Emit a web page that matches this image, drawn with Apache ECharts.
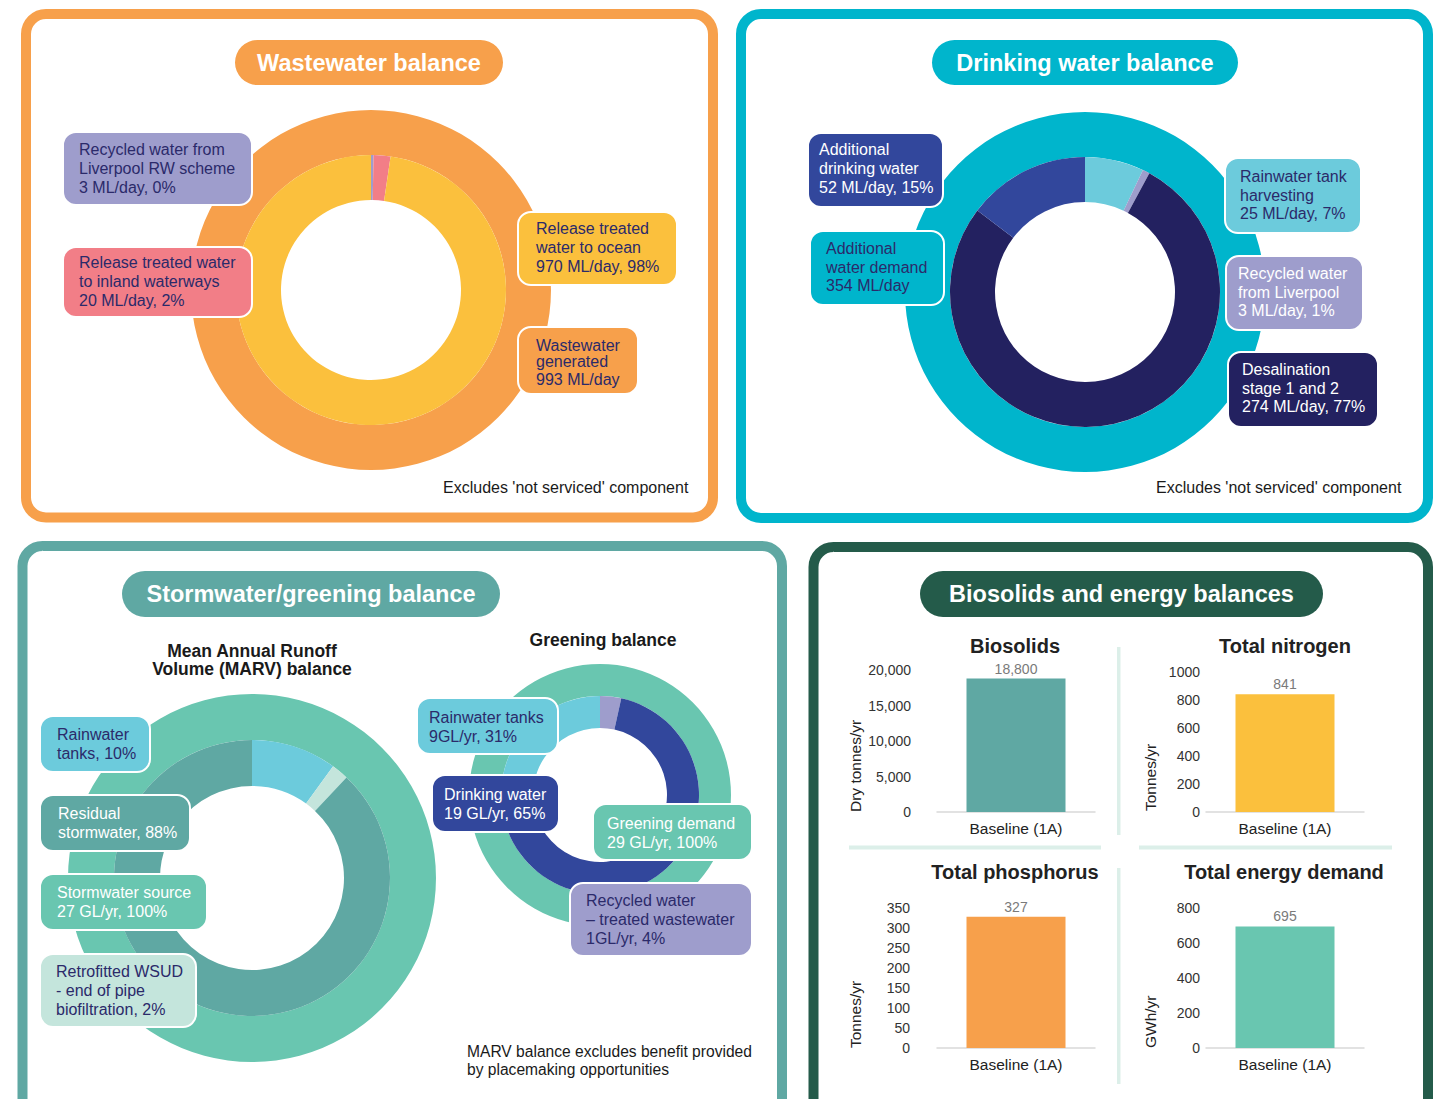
<!DOCTYPE html>
<html><head><meta charset="utf-8">
<script src="https://cdn.jsdelivr.net/npm/echarts@6/dist/echarts.min.js"></script>
<style>html,body{margin:0;padding:0;background:#fff}#c{width:1446px;height:1099px}</style>
</head><body><div id="c"></div>
<script>
// ---------------- DATA ----------------
const wwNames = ['Recycled water from\nLiverpool RW scheme', 'Release treated water\nto inland waterways', 'Release treated\nwater to ocean'];
const wwValues = [3, 20, 970];
const wwPct = [0, 2, 98];
const wwTotalName = 'Wastewater\ngenerated';
const wwTotal = 993;

const dwNames = ['Rainwater tank\nharvesting', 'Recycled water\nfrom Liverpool', 'Desalination\nstage 1 and 2', 'Additional\ndrinking water'];
const dwValues = [25, 3, 274, 52];
const dwPct = [7, 1, 77, 15];
const dwTotalName = 'Additional\nwater demand';
const dwTotal = 354;

const marvNames = ['Rainwater\ntanks', 'Retrofitted WSUD\n- end of pipe\nbiofiltration', 'Residual\nstormwater'];
const marvPct = [10, 2, 88];
const marvTotalName = 'Stormwater source';
const marvTotal = 27;
const marvTotalPct = 100;

const grNames = ['Recycled water\n– treated wastewater', 'Drinking water', 'Rainwater tanks'];
const grValues = [1, 19, 9];
const grPct = [4, 65, 31];
const grTotalName = 'Greening demand';
const grTotal = 29;
const grTotalPct = 100;

const barTitles = ['Biosolids', 'Total nitrogen', 'Total phosphorus', 'Total energy demand'];
const barUnits = ['Dry tonnes/yr', 'Tonnes/yr', 'Tonnes/yr', 'GWh/yr'];
const barCategory = ['Baseline (1A)'];
const barValues = [18800, 841, 327, 695];
const barMax = [20000, 1000, 350, 800];
const barInterval = [5000, 200, 50, 200];
const barCommas = [true, false, false, false];

// ---------------- STYLE ----------------
const C = {
  orange: '#F7A04B', yellow: '#FBC03D', pink: '#F27E87', purple: '#9E9DCC',
  cyan: '#00B5CC', lcyan: '#6CCBDC', blue: '#32479C', navy: '#232160',
  teal: '#5FA8A3', mint: '#69C6B0', pale: '#C4E5DC', dgreen: '#245B4A',
  txt: '#2B2A6A', sep: '#DCEFE9'
};
const FF = "'Liberation Sans', Arial, Helvetica, sans-serif";

const G = [];
function txt(x, y, text, o) {
  o = o || {};
  G.push({
    type: 'text', x: x, y: y, rotation: o.rot || 0, z: o.z == null ? 12 : o.z, silent: true,
    style: {
      text: text, fill: o.fill || '#1a1a1a', fontSize: o.size || 16, fontWeight: o.weight || 'normal',
      fontFamily: FF, align: o.align || 'left', textAlign: o.align || 'left',
      verticalAlign: 'middle', textVerticalAlign: 'middle'
    }
  });
}
function panel(x, y, w, h, color) {
  G.push({ type: 'rect', z: 0, silent: true, shape: { x: x, y: y, width: w, height: h, r: 20 },
    style: { fill: '#fff', stroke: color, lineWidth: 10 } });
}
function pill(x, y, w, h, color, text) {
  G.push({ type: 'rect', z: 5, silent: true, shape: { x: x, y: y, width: w, height: h, r: h / 2 },
    style: { fill: color } });
  txt(x + w / 2, y + h / 2, text, { fill: '#fff', size: 23.5, weight: 'bold', align: 'center' });
}
function box(x, y, w, h, fill, tc, lines, tx, ys) {
  G.push({ type: 'rect', z: 10, silent: true, shape: { x: x, y: y, width: w, height: h, r: 13 },
    style: { fill: fill, stroke: '#fff', lineWidth: 2 } });
  lines.forEach((l, i) => txt(tx, ys[i], l, { fill: tc, size: 16 }));
}
function sepRect(x, y, w, h) {
  G.push({ type: 'rect', z: 1, silent: true, shape: { x: x, y: y, width: w, height: h }, style: { fill: C.sep } });
}

// Panels
panel(26, 14, 687, 503.5, C.orange);
panel(741, 14, 687, 504, C.cyan);
panel(22.5, 546, 759.5, 620, C.teal);
panel(813.5, 547, 614.5, 620, C.dgreen);

// Titles
pill(235, 40, 268, 45, C.orange, 'Wastewater balance');
pill(932, 40, 306, 45, C.cyan, 'Drinking water balance');
pill(122, 571, 378, 46, C.teal, 'Stormwater/greening balance');
pill(920, 571, 403, 46, C.dgreen, 'Biosolids and energy balances');

// Wastewater labels
box(63, 132, 189, 73, C.purple, C.txt, [...wwNames[0].split('\n'), wwValues[0] + ' ML/day, ' + wwPct[0] + '%'], 79, [149, 168, 187]);
box(63, 247, 189, 70, C.pink, C.txt, [...wwNames[1].split('\n'), wwValues[1] + ' ML/day, ' + wwPct[1] + '%'], 79, [262, 281, 300]);
box(518, 212, 159, 73, C.yellow, C.txt, [...wwNames[2].split('\n'), wwValues[2] + ' ML/day, ' + wwPct[2] + '%'], 536, [228, 247, 266]);
box(518, 327, 120, 67, C.orange, C.txt, [...wwTotalName.split('\n'), wwTotal + ' ML/day'], 536, [345, 361, 379]);
txt(443, 487, "Excludes 'not serviced' component", { size: 16 });

// Drinking water labels
box(808, 133, 135, 74, C.blue, '#fff', [...dwNames[3].split('\n'), dwValues[3] + ' ML/day, ' + dwPct[3] + '%'], 819, [149, 168, 187]);
box(810, 231, 134, 74, C.cyan, C.txt, [...dwTotalName.split('\n'), dwTotal + ' ML/day'], 826, [248, 267, 285]);
box(1225, 158, 136, 75, C.lcyan, C.txt, [...dwNames[0].split('\n'), dwValues[0] + ' ML/day, ' + dwPct[0] + '%'], 1240, [176, 195, 213]);
box(1226, 256, 137, 74, C.purple, '#fff', [...dwNames[1].split('\n'), dwValues[1] + ' ML/day, ' + dwPct[1] + '%'], 1238, [273, 292, 310]);
box(1228, 352, 150, 75, C.navy, '#fff', [...dwNames[2].split('\n'), dwValues[2] + ' ML/day, ' + dwPct[2] + '%'], 1242, [369, 388, 406]);
txt(1156, 487, "Excludes 'not serviced' component", { size: 16 });

// Stormwater labels
txt(252, 651, 'Mean Annual Runoff', { size: 17.5, weight: 'bold', align: 'center' });
txt(252, 669, 'Volume (MARV) balance', { size: 17.5, weight: 'bold', align: 'center' });
txt(603, 640, 'Greening balance', { size: 17.5, weight: 'bold', align: 'center' });
const mRain = marvNames[0].split('\n');
box(40, 716, 110, 56, C.lcyan, C.txt, [mRain[0], mRain[1] + ', ' + marvPct[0] + '%'], 57, [734, 753]);
const mRes = marvNames[2].split('\n');
box(40, 795, 150, 56, C.teal, '#fff', [mRes[0], mRes[1] + ', ' + marvPct[2] + '%'], 58, [813, 832]);
box(40, 874, 167, 56, C.mint, '#fff', [marvTotalName, marvTotal + ' GL/yr, ' + marvTotalPct + '%'], 57, [892, 911]);
const mW = marvNames[1].split('\n');
box(40, 954, 156, 73, C.pale, C.txt, [mW[0], mW[1], mW[2] + ', ' + marvPct[1] + '%'], 56, [971, 990, 1009]);

box(417, 698, 141, 56, C.lcyan, C.txt, [grNames[2], grValues[2] + 'GL/yr, ' + grPct[2] + '%'], 429, [717, 736]);
box(432, 775, 127, 57, C.blue, '#fff', [grNames[1], grValues[1] + ' GL/yr, ' + grPct[1] + '%'], 444, [794, 813]);
box(593, 804, 159, 56, C.mint, '#fff', [grTotalName, grTotal + ' GL/yr, ' + grTotalPct + '%'], 607, [823, 842]);
box(570, 883, 182, 73, C.purple, C.txt, [...grNames[0].split('\n'), grValues[0] + 'GL/yr, ' + grPct[0] + '%'], 586, [900, 919, 938]);
txt(467, 1051, 'MARV balance excludes benefit provided', { size: 15.6 });
txt(467, 1069, 'by placemaking opportunities', { size: 15.6 });

// Biosolids panel separators
sepRect(849, 845.5, 252, 4);
sepRect(1139, 845.5, 253, 4);
sepRect(1117, 647, 3.5, 188);
sepRect(1117, 868, 3.5, 216);

// Bar chart layout
const grids = [
  { left: 937, top: 670, width: 158, height: 142 },
  { left: 1206, top: 672, width: 158, height: 140 },
  { left: 937, top: 907.5, width: 158, height: 140.5 },
  { left: 1206, top: 908, width: 158, height: 140 }
];
const titlePos = [[1015, 646], [1285, 646], [1015, 872], [1284, 872]];
const unitPos = [[855, 812], [1150, 811], [855, 1048], [1150, 1048]];
const labelMargins = [26, 6, 27, 6];
const barColors = [C.teal, C.yellow, C.orange, C.mint];
barTitles.forEach((t, i) => txt(titlePos[i][0], titlePos[i][1], t, { size: 20, weight: 'bold', align: 'center', fill: '#222' }));
barUnits.forEach((u, i) => txt(unitPos[i][0], unitPos[i][1], u, { size: 15.5, rot: Math.PI / 2, fill: '#222' }));

const fmtNum = (v, comma) => comma ? echarts.format.addCommas(v) : String(v);

// ---------------- SERIES ----------------
function ring(center, radius, values, names, colors) {
  return {
    type: 'pie', center: center, radius: radius, startAngle: 90, clockwise: true, silent: true,
    animation: false, z: 2, label: { show: false }, labelLine: { show: false },
    itemStyle: { borderWidth: 0 },
    data: values.map((v, i) => ({ value: v, name: names[i], itemStyle: { color: colors[i] } }))
  };
}

const series = [
  ring([371, 290], [135, 180], [wwTotal], [wwTotalName], [C.orange]),
  ring([371, 290], [90, 135], wwValues, wwNames, [C.purple, C.pink, C.yellow]),
  ring([1085, 292], [135, 180], [dwTotal], [dwTotalName], [C.cyan]),
  ring([1085, 292], [90, 135], dwValues, dwNames, [C.lcyan, C.purple, C.navy, C.blue]),
  ring([252, 878], [138, 184], [marvTotal], [marvTotalName], [C.mint]),
  ring([252, 878], [92, 138], marvPct, marvNames, [C.lcyan, C.pale, C.teal]),
  ring([600, 795], [99, 131], [grTotal], [grTotalName], [C.mint]),
  ring([600, 795], [67, 99], grValues, grNames, [C.purple, C.blue, C.lcyan])
];
barValues.forEach((v, i) => {
  series.push({
    type: 'bar', xAxisIndex: i, yAxisIndex: i, data: [v], barWidth: 99, animation: false, silent: true,
    itemStyle: { color: barColors[i] },
    label: { show: true, position: 'top', distance: 3, color: '#7a7a7a', fontSize: 14, fontFamily: FF,
      formatter: p => fmtNum(p.value, barCommas[i]) }
  });
});

const option = {
  animation: false,
  textStyle: { fontFamily: FF },
  graphic: { elements: G },
  grid: grids.map(g => Object.assign({ containLabel: false }, g)),
  xAxis: grids.map((g, i) => ({
    type: 'category', gridIndex: i, data: barCategory,
    axisLine: { show: true, lineStyle: { color: '#d9d9d9', width: 1.5 } },
    axisTick: { show: false },
    axisLabel: { color: '#222', fontSize: 15.5, margin: 8, fontFamily: FF }
  })),
  yAxis: grids.map((g, i) => ({
    type: 'value', gridIndex: i, min: 0, max: barMax[i], interval: barInterval[i],
    axisLine: { show: false }, axisTick: { show: false }, splitLine: { show: false },
    axisLabel: { color: '#333', fontSize: 14, margin: labelMargins[i], fontFamily: FF,
      formatter: v => fmtNum(v, barCommas[i]) }
  })),
  series: series
};

const chart = echarts.init(document.getElementById('c'), null, { renderer: 'svg', width: 1446, height: 1099 });
chart.setOption(option);
</script>
</body></html>
